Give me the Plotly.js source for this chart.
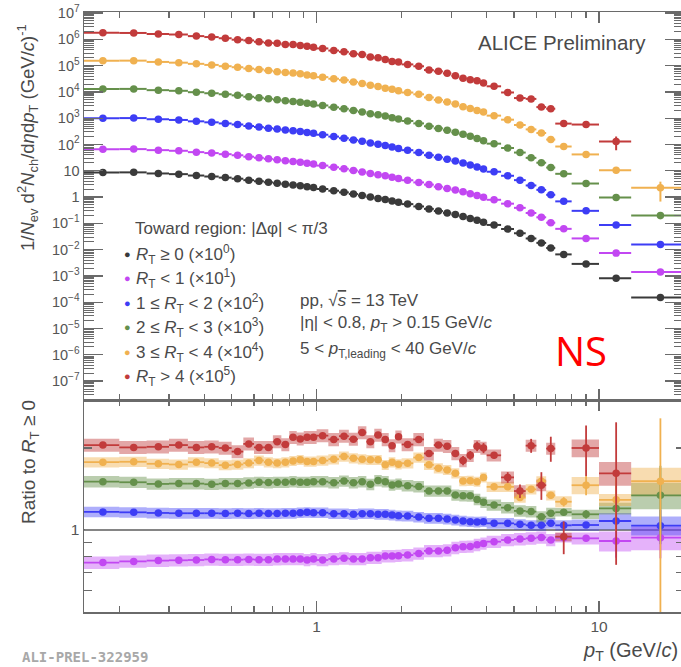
<!DOCTYPE html>
<html>
<head>
<meta charset="utf-8">
<script src="https://cdn.plot.ly/plotly-3.0.1.min.js"></script>
<style>
  html, body { margin: 0; padding: 0; overflow: hidden; background: #fff; }
  #chart { width: 688px; height: 667px; }
</style>
</head>
<body>
<div id="chart"></div>
<script>
// pT bin edges (GeV/c)
const binEdges = [0.15, 0.2, 0.25, 0.3, 0.35, 0.4, 0.45, 0.5, 0.55, 0.6, 0.65, 0.7, 0.75, 0.8, 0.85, 0.9, 0.95, 1.0,
  1.1, 1.2, 1.3, 1.4, 1.5, 1.6, 1.7, 1.8, 1.9, 2.0, 2.2, 2.4, 2.6, 2.8, 3.0, 3.2, 3.4, 3.6, 3.8, 4.0,
  4.5, 5.0, 5.5, 6.0, 6.5, 7.0, 8.0, 10.0, 13.0, 20.0];

// R_T >= 0 spectrum, 1/Nev d2N/detadpT
const spectrumAll = [8.6, 8.7, 7.9, 7.45, 6.6, 6.05, 5.5, 5.0, 4.4, 4.0, 3.65, 3.35, 3.1, 2.9, 2.7, 2.48, 2.3,
  2.03, 1.74, 1.51, 1.31, 1.15, 1.0, 0.89, 0.80, 0.71, 0.63, 0.54, 0.44, 0.355, 0.295, 0.25, 0.215, 0.182,
  0.154, 0.131, 0.11, 0.087, 0.061, 0.042, 0.0266, 0.0181, 0.0115, 0.0066, 0.00287, 0.00081, 0.00015];

// ratios to R_T >= 0
const ratioLt1 = [0.759, 0.767, 0.772, 0.774, 0.776, 0.780, 0.778, 0.778, 0.780, 0.778, 0.778, 0.782,
  0.783, 0.783, 0.783, 0.776, 0.783, 0.776, 0.783, 0.787, 0.783, 0.783, 0.791, 0.791, 0.802, 0.802, 0.804,
  0.809, 0.820, 0.838, 0.838, 0.843, 0.860, 0.868, 0.870, 0.882, 0.893, 0.906, 0.919, 0.926, 0.932, 0.939,
  0.919, 0.937, 0.932, 0.911, 0.937];
const ratio1to2 = [1.165, 1.161, 1.155, 1.152, 1.152, 1.152, 1.150, 1.152, 1.149, 1.152, 1.149, 1.149,
  1.152, 1.152, 1.158, 1.161, 1.158, 1.158, 1.148, 1.148, 1.142, 1.148, 1.148, 1.142, 1.142, 1.135, 1.128,
  1.125, 1.115, 1.104, 1.104, 1.098, 1.088, 1.079, 1.073, 1.07, 1.073, 1.058, 1.058, 1.049, 1.04, 1.04,
  1.058, 1.04, 1.043, 1.079, 1.037];
const ratio2to3 = [1.505, 1.497, 1.476, 1.48, 1.48, 1.472, 1.48, 1.48, 1.489, 1.497, 1.493, 1.497,
  1.497, 1.505, 1.497, 1.497, 1.505, 1.505, 1.492, 1.514, 1.492, 1.505, 1.471, 1.518, 1.505, 1.463, 1.476,
  1.455, 1.443, 1.391, 1.391, 1.391, 1.345, 1.337, 1.335, 1.295, 1.264, 1.236, 1.208, 1.175, 1.168, 1.119,
  1.152, 1.162, 1.142, 1.20, 1.34];
const ratio3to4 = [1.774, 1.78, 1.75, 1.74, 1.774, 1.76, 1.73, 1.74, 1.76, 1.80, 1.774, 1.76,
  1.773, 1.793, 1.809, 1.783, 1.783, 1.798, 1.819, 1.861, 1.834, 1.819, 1.809, 1.809, 1.734, 1.773, 1.744,
  1.758, 1.845, 1.734, 1.686, 1.662, 1.615, 1.514, 1.515, 1.505, 1.56, 1.44, 1.44, 1.315, 1.41, 1.51,
  1.34, 1.27, 1.46, 1.29, 1.51];
const ratioGt4 = [2.05, 2.01, 2.02, 2.05, 2.01, 2.02, 2.00, 1.94, 2.07, 2.01, 2.01, 2.11,
  2.06, 2.19, 2.16, 2.19, 2.19, 2.22, 2.15, 2.21, 2.155, 2.28, 2.11, 2.23, 2.15, 2.04, 2.20,
  2.06, 2.15, 1.91, 2.05, 2.03, 1.91, 1.80, 1.88, 2.03, 2.00, 1.88, 1.56, 1.39, 2.04, 1.46,
  1.99, 0.945, 2.00, 1.615, null];

// statistical errors on the ratios (absolute)
const statLt1 = [0.006, 0.006, 0.006, 0.006, 0.006, 0.006, 0.006, 0.006, 0.006, 0.006,
  0.006, 0.006, 0.006, 0.006, 0.006, 0.006, 0.006, 0.006, 0.006, 0.006,
  0.006, 0.006, 0.006, 0.006, 0.006, 0.006, 0.006, 0.006, 0.006, 0.006,
  0.006, 0.006, 0.006, 0.006, 0.006, 0.006, 0.006, 0.006, 0.006, 0.006,
  0.006, 0.012, 0.012, 0.012, 0.025, 0.12, 0.15];
const stat1to2 = [0.006, 0.006, 0.006, 0.006, 0.006, 0.006, 0.006, 0.006, 0.006, 0.006,
  0.006, 0.006, 0.006, 0.006, 0.006, 0.006, 0.006, 0.006, 0.006, 0.006,
  0.006, 0.006, 0.006, 0.006, 0.006, 0.006, 0.006, 0.006, 0.006, 0.006,
  0.006, 0.006, 0.006, 0.006, 0.006, 0.006, 0.006, 0.006, 0.006, 0.006,
  0.006, 0.012, 0.012, 0.012, 0.025, 0.05, 0.15];
const stat2to3 = [0.008, 0.008, 0.008, 0.008, 0.008, 0.008, 0.008, 0.008, 0.008, 0.008,
  0.008, 0.008, 0.008, 0.008, 0.008, 0.008, 0.008, 0.008, 0.008, 0.008,
  0.008, 0.008, 0.008, 0.008, 0.008, 0.008, 0.008, 0.008, 0.008, 0.008,
  0.008, 0.008, 0.008, 0.008, 0.008, 0.008, 0.008, 0.015, 0.015, 0.015,
  0.015, 0.015, 0.015, 0.02, 0.04, 0.08, 0.38];
const stat3to4 = [0.01, 0.01, 0.01, 0.01, 0.01, 0.01, 0.01, 0.01, 0.01, 0.01,
  0.01, 0.01, 0.01, 0.01, 0.01, 0.01, 0.01, 0.01, 0.01, 0.01,
  0.01, 0.01, 0.01, 0.01, 0.01, 0.01, 0.01, 0.01, 0.01, 0.02,
  0.02, 0.02, 0.02, 0.02, 0.02, 0.02, 0.02, 0.03, 0.03, 0.03,
  0.03, 0.05, 0.04, 0.05, 0.12, 0.30, 1.06];
const statGt4 = [0.012, 0.012, 0.012, 0.012, 0.012, 0.012, 0.012, 0.012, 0.012, 0.012,
  0.012, 0.012, 0.015, 0.015, 0.015, 0.015, 0.015, 0.02, 0.02, 0.02,
  0.02, 0.02, 0.02, 0.02, 0.03, 0.03, 0.05, 0.03, 0.03, 0.04,
  0.04, 0.04, 0.05, 0.07, 0.07, 0.085, 0.085, 0.05, 0.07, 0.08,
  0.12, 0.17, 0.21, 0.13, 0.42, 0.87, null];

// systematic uncertainties on the ratios (relative)
const systLt1 = [0.052, 0.052, 0.052, 0.052, 0.052, 0.052, 0.052, 0.052, 0.052, 0.052,
  0.052, 0.052, 0.052, 0.052, 0.052, 0.052, 0.052, 0.052, 0.052, 0.052,
  0.052, 0.052, 0.052, 0.052, 0.052, 0.052, 0.052, 0.052, 0.052, 0.052,
  0.052, 0.052, 0.052, 0.052, 0.052, 0.052, 0.052, 0.052, 0.052, 0.052,
  0.052, 0.052, 0.052, 0.04, 0.05, 0.084, 0.10];
const syst1to2 = [0.045, 0.045, 0.045, 0.045, 0.045, 0.045, 0.045, 0.045, 0.045, 0.045,
  0.045, 0.045, 0.045, 0.045, 0.045, 0.045, 0.045, 0.045, 0.045, 0.045,
  0.045, 0.045, 0.045, 0.045, 0.045, 0.045, 0.045, 0.045, 0.045, 0.045,
  0.045, 0.045, 0.045, 0.045, 0.045, 0.045, 0.045, 0.045, 0.045, 0.045,
  0.045, 0.045, 0.045, 0.043, 0.048, 0.07, 0.08];
const syst2to3 = [0.048, 0.048, 0.048, 0.048, 0.048, 0.048, 0.048, 0.048, 0.048, 0.048,
  0.048, 0.048, 0.048, 0.048, 0.048, 0.048, 0.048, 0.048, 0.048, 0.048,
  0.048, 0.048, 0.048, 0.048, 0.048, 0.048, 0.048, 0.048, 0.048, 0.048,
  0.048, 0.048, 0.048, 0.048, 0.048, 0.048, 0.048, 0.048, 0.048, 0.048,
  0.048, 0.048, 0.048, 0.036, 0.04, 0.05, 0.11];
const syst3to4 = [0.043, 0.043, 0.043, 0.043, 0.043, 0.043, 0.043, 0.043, 0.043, 0.043,
  0.043, 0.043, 0.043, 0.043, 0.043, 0.043, 0.043, 0.043, 0.043, 0.043,
  0.043, 0.043, 0.043, 0.043, 0.043, 0.043, 0.043, 0.043, 0.043, 0.043,
  0.043, 0.043, 0.043, 0.043, 0.043, 0.043, 0.043, 0.043, 0.043, 0.043,
  0.043, 0.043, 0.043, 0.048, 0.073, 0.05, 0.12];
const systGt4 = [0.055, 0.055, 0.055, 0.055, 0.055, 0.055, 0.055, 0.055, 0.055, 0.055,
  0.055, 0.055, 0.055, 0.055, 0.055, 0.055, 0.055, 0.055, 0.055, 0.055,
  0.055, 0.055, 0.055, 0.055, 0.055, 0.055, 0.055, 0.055, 0.055, 0.055,
  0.055, 0.055, 0.055, 0.055, 0.055, 0.055, 0.055, 0.05, 0.05, 0.05,
  0.05, 0.05, 0.05, 0.037, 0.075, 0.10, null];

const scaleFactors = [1, 10, 100, 1000, 10000, 100000];
const classLabels = [
  '<i>R</i><sub>T</sub> ≥ 0 (×10<sup>0</sup>)',
  '<i>R</i><sub>T</sub> < 1 (×10<sup>1</sup>)',
  '1 ≤ <i>R</i><sub>T</sub> < 2 (×10<sup>2</sup>)',
  '2 ≤ <i>R</i><sub>T</sub> < 3 (×10<sup>3</sup>)',
  '3 ≤ <i>R</i><sub>T</sub> < 4 (×10<sup>4</sup>)',
  '<i>R</i><sub>T</sub> > 4 (×10<sup>5</sup>)'
];

// tick labels
const topTickVals = [1e-7, 1e-6, 1e-5, 1e-4, 1e-3, 1e-2, 1e-1, 1, 10, 1e2, 1e3, 1e4, 1e5, 1e6, 1e7];
const topTickText = ['10<sup>−7</sup>', '10<sup>−6</sup>', '10<sup>−5</sup>', '10<sup>−4</sup>', '10<sup>−3</sup>',
  '10<sup>−2</sup>', '10<sup>−1</sup>', '1', '10', '10<sup>2</sup>', '10<sup>3</sup>', '10<sup>4</sup>',
  '10<sup>5</sup>', '10<sup>6</sup>', '10<sup>7</sup>'];
const xTickVals = [1, 10];
const xTickText = ['1', '10'];

const colors = ['#3a3a3a', '#c247f2', '#3d3df5', '#65904b', '#f0b150', '#c23b3b'];
const boxFill = ['rgba(58,58,58,0.4)', 'rgba(194,71,242,0.42)', 'rgba(61,61,245,0.42)',
  'rgba(101,144,75,0.45)', 'rgba(240,177,80,0.45)', 'rgba(194,59,59,0.45)'];

const ratioSets = [
  { cls: 1, ratio: ratioLt1, stat: statLt1, syst: systLt1 },
  { cls: 2, ratio: ratio1to2, stat: stat1to2, syst: syst1to2 },
  { cls: 3, ratio: ratio2to3, stat: stat2to3, syst: syst2to3 },
  { cls: 4, ratio: ratio3to4, stat: stat3to4, syst: syst3to4 },
  { cls: 5, ratio: ratioGt4, stat: statGt4, syst: systGt4 }
];

const pt = [], halfWidth = [];
for (let i = 0; i < binEdges.length - 1; i++) {
  pt.push((binEdges[i] + binEdges[i + 1]) / 2);
  halfWidth.push((binEdges[i + 1] - binEdges[i]) / 2);
}

const traces = [];

// top panel: spectra
traces.push({
  x: pt, y: spectrumAll, xaxis: 'x', yaxis: 'y', type: 'scatter', mode: 'markers',
  marker: { color: colors[0], size: 7.5 },
  error_x: { type: 'data', array: halfWidth, color: colors[0], thickness: 2, width: 0 }
});
ratioSets.forEach(s => {
  const k = scaleFactors[s.cls];
  const y = s.ratio.map((r, j) => r === null ? null : spectrumAll[j] * r * k);
  const ey = s.stat.map((e, j) => e === null ? 0 : spectrumAll[j] * e * k);
  traces.push({
    x: pt, y: y, xaxis: 'x', yaxis: 'y', type: 'scatter', mode: 'markers',
    marker: { color: colors[s.cls], size: 7.5 },
    error_x: { type: 'data', array: halfWidth, color: colors[s.cls], thickness: 2, width: 0 },
    error_y: { type: 'data', array: ey, color: colors[s.cls], thickness: 2, width: 0 }
  });
});

// bottom panel: systematic boxes
ratioSets.forEach(s => {
  const bx = [], by = [];
  s.ratio.forEach((r, j) => {
    if (r === null) return;
    const d = r * s.syst[j];
    const lo = binEdges[j], hi = binEdges[j + 1];
    bx.push(lo, hi, hi, lo, lo, null);
    by.push(r - d, r - d, r + d, r + d, r - d, null);
  });
  traces.push({
    x: bx, y: by, xaxis: 'x2', yaxis: 'y2', type: 'scatter', mode: 'lines',
    fill: 'toself', fillcolor: boxFill[s.cls], line: { width: 0 }, hoverinfo: 'skip'
  });
});

// bottom panel: ratio points
ratioSets.forEach(s => {
  traces.push({
    x: pt, y: s.ratio, xaxis: 'x2', yaxis: 'y2', type: 'scatter', mode: 'markers',
    marker: { color: colors[s.cls], size: 7.5 },
    error_x: { type: 'data', array: halfWidth, color: colors[s.cls], thickness: 1.8, width: 0 },
    error_y: { type: 'data', array: s.stat.map(e => e === null ? 0 : e), color: colors[s.cls], thickness: 1.8, width: 0 }
  });
});

const minorX = [0.2, 0.3, 0.4, 0.5, 0.6, 0.7, 0.8, 0.9, 2, 3, 4, 5, 6, 7, 8, 9];
const minorY = [];
for (let e = -8; e <= 7; e++) {
  for (let m = 2; m <= 9; m++) minorY.push(m * Math.pow(10, e));
}

const axisColor = '#6a6a6a';
const textColor = '#4a4a4a';
const xRange = [Math.log10(0.15), Math.log10(20)];
const splitY = 0.3533;

const baseX = {
  type: 'log', range: xRange, tickvals: xTickVals, ticktext: xTickText,
  ticks: 'inside', ticklen: 11, tickwidth: 1.2, tickcolor: axisColor,
  showline: true, linecolor: axisColor, linewidth: 1.5, mirror: 'ticks',
  showgrid: false, zeroline: false,
  minor: { tickvals: minorX, ticks: 'inside', ticklen: 6, tickwidth: 1.2, tickcolor: axisColor, showgrid: false }
};

const layout = {
  width: 688, height: 667,
  margin: { l: 84, r: 4, t: 12, b: 55 },
  paper_bgcolor: '#ffffff', plot_bgcolor: '#ffffff',
  font: { family: 'Liberation Sans, Arial, sans-serif', color: textColor, size: 14 },
  showlegend: false,
  xaxis: Object.assign({}, baseX, { anchor: 'y', showticklabels: false }),
  yaxis: {
    type: 'log', domain: [splitY, 1], range: [-7.72, 7.04], anchor: 'x',
    tickvals: topTickVals, ticktext: topTickText, tickfont: { size: 14.5, color: '#555' },
    ticks: 'inside', ticklen: 19, tickwidth: 1.2, tickcolor: axisColor,
    showline: true, linecolor: axisColor, linewidth: 1.5, mirror: 'ticks',
    showgrid: false, zeroline: false,
    minor: { tickvals: minorY, ticks: 'inside', ticklen: 10, tickwidth: 1, tickcolor: axisColor, showgrid: false }
  },
  xaxis2: Object.assign({}, baseX, { anchor: 'y2', tickfont: { size: 15.5, color: '#555' } }),
  yaxis2: {
    type: 'log', domain: [0, splitY], range: [Math.log10(0.5), Math.log10(3)], anchor: 'x2',
    tickvals: [1], ticktext: ['1'], tickfont: { size: 15.5, color: '#555' },
    ticks: 'inside', ticklen: 1, tickcolor: axisColor,
    showline: true, linecolor: axisColor, linewidth: 1.5, mirror: 'ticks',
    showgrid: true, gridcolor: '#858585', gridwidth: 2, zeroline: false,
    minor: { tickvals: [0.6, 0.7, 0.8, 0.9, 2, 3], ticks: 'inside', ticklen: 8, tickwidth: 1.2, tickcolor: axisColor, showgrid: false }
  },
  annotations: []
};

const px = v => (v - 84) / 600;
const py = v => (612 - v) / 600;
const ann = (x, y, text, opts) => Object.assign({
  xref: 'paper', yref: 'paper', x: px(x), y: py(y), text: text, showarrow: false,
  xanchor: 'left', yanchor: 'middle', font: { size: 17, color: textColor }
}, opts || {});

const A = layout.annotations;
A.push(ann(648, 43, 'ALICE Preliminary', { xanchor: 'right', font: { size: 20.5, color: textColor } }));
A.push(ann(133, 228, 'Toward region: |Δφ| < π/3'));
const legendY = [254, 278, 303, 327, 352, 376];
classLabels.forEach((lab, i) => {
  A.push(ann(127, legendY[i], '●', { xanchor: 'center', font: { size: 11, color: colors[i] } }));
  A.push(ann(134, legendY[i], lab));
});
A.push(ann(298, 300, 'pp, √<span style="text-decoration:overline"><i>s</i></span> = 13 TeV'));
A.push(ann(298, 324, '|η| < 0.8, <i>p</i><sub>T</sub> > 0.15 GeV/<i>c</i>'));
A.push(ann(298, 350, '5 < <i>p</i><sub>T,leading</sub> < 40 GeV/<i>c</i>'));
A.push(ann(581, 350, 'NS', { xanchor: 'center', font: { family: 'Open Sans, sans-serif', size: 40, color: '#ff0000' } }));
A.push(ann(28, 138, '1/<i>N</i><sub>ev</sub> d<sup>2</sup><i>N</i><sub>ch</sub>/d<i>η</i>d<i>p</i><sub>T</sub> (GeV/<i>c</i>)<sup>-1</sup>',
  { xanchor: 'center', textangle: -90, font: { size: 18.5, color: textColor } }));
A.push(ann(30, 462, 'Ratio to <i>R</i><sub>T</sub> ≥ 0', { xanchor: 'center', textangle: -90, font: { size: 19, color: textColor } }));
A.push(ann(680, 651, '<i>p</i><sub>T</sub> (GeV/<i>c</i>)', { xanchor: 'right', font: { size: 20, color: textColor } }));
A.push(ann(20, 657, '<b>ALI-PREL-322959</b>', { font: { family: 'DejaVu Sans Mono, monospace', size: 14, color: '#a8a8a8' } }));

Plotly.newPlot('chart', traces, layout, { staticPlot: true, displayModeBar: false });
</script>
</body>
</html>
